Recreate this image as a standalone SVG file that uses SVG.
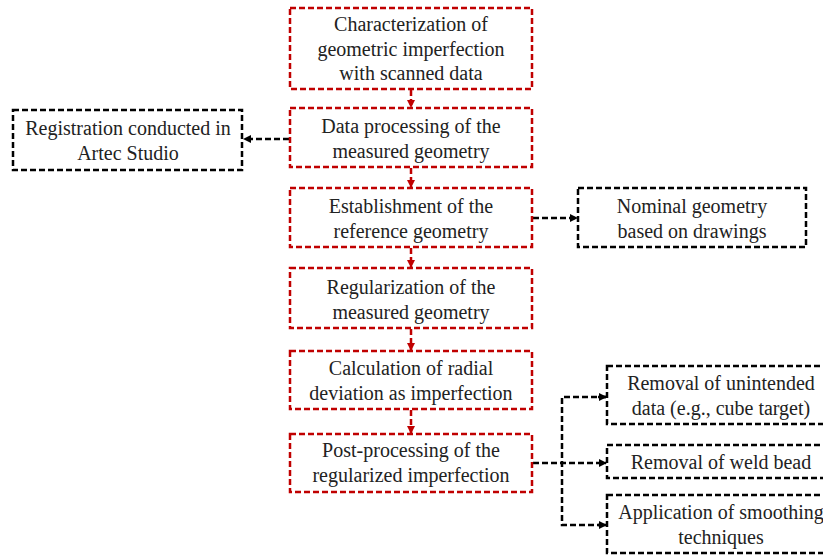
<svg xmlns="http://www.w3.org/2000/svg" width="823" height="556" viewBox="0 0 823 556">
<defs>
<marker id="ar" markerWidth="8" markerHeight="8" refX="7" refY="4" orient="auto" markerUnits="userSpaceOnUse"><path d="M0,0 L8,4 L0,8 z" fill="#C00000"/></marker>
<marker id="ab" markerWidth="8" markerHeight="8" refX="7" refY="4" orient="auto" markerUnits="userSpaceOnUse"><path d="M0,0 L8,4 L0,8 z" fill="#000"/></marker>
</defs>
<style>
.r{fill:#fff;stroke:#C00000;stroke-width:2.5;stroke-dasharray:6,3}
.b{fill:#fff;stroke:#000;stroke-width:2.5;stroke-dasharray:6,3}
.t{font-family:'Liberation Serif','DejaVu Serif',serif;font-size:20px;fill:#222;text-anchor:middle}
.cr{fill:none;stroke:#C00000;stroke-width:2.5;stroke-dasharray:6,3}
.cb{fill:none;stroke:#000;stroke-width:2.5;stroke-dasharray:6,3}
</style>
<rect width="823" height="556" fill="#fff"/>
<g id="connectors">
<line class="cr" x1="411" y1="90" x2="411" y2="107" marker-end="url(#ar)"/>
<line class="cr" x1="411" y1="168" x2="411" y2="187" marker-end="url(#ar)"/>
<line class="cr" x1="411" y1="248" x2="411" y2="267" marker-end="url(#ar)"/>
<line class="cr" x1="411" y1="329" x2="411" y2="350" marker-end="url(#ar)"/>
<line class="cr" x1="411" y1="410" x2="411" y2="433" marker-end="url(#ar)"/>
<line class="cb" x1="289" y1="139" x2="244" y2="139" marker-end="url(#ab)"/>
<line class="cb" x1="533" y1="218" x2="577" y2="218" marker-end="url(#ab)"/>
<line class="cb" x1="533" y1="463" x2="606" y2="463" marker-end="url(#ab)"/>
<polyline class="cb" points="606,397 562,397 562,525 606,525"/>
<line x1="598" y1="397" x2="606" y2="397" stroke="#000" stroke-width="2.5" marker-end="url(#ab)"/>
<line x1="598" y1="525" x2="606" y2="525" stroke="#000" stroke-width="2.5" marker-end="url(#ab)"/>
</g>
<g id="n1"><rect class="r" x="290" y="8" width="242" height="81"/>
<text class="t" x="411" y="31">Characterization of</text>
<text class="t" x="411" y="56">geometric imperfection</text>
<text class="t" x="411" y="80">with scanned data</text></g>
<g id="n2"><rect class="r" x="290" y="108" width="242" height="59"/>
<text class="t" x="411" y="133">Data processing of the</text>
<text class="t" x="411" y="158">measured geometry</text></g>
<g id="n3"><rect class="r" x="290" y="188" width="242" height="59"/>
<text class="t" x="411" y="213">Establishment of the</text>
<text class="t" x="411" y="238">reference geometry</text></g>
<g id="n4"><rect class="r" x="290" y="268" width="242" height="60"/>
<text class="t" x="411" y="294">Regularization of the</text>
<text class="t" x="411" y="319">measured geometry</text></g>
<g id="n5"><rect class="r" x="290" y="351" width="242" height="58"/>
<text class="t" x="411" y="375">Calculation of radial</text>
<text class="t" x="411" y="400">deviation as imperfection</text></g>
<g id="n6"><rect class="r" x="290" y="434" width="242" height="58"/>
<text class="t" x="411" y="457">Post-processing of the</text>
<text class="t" x="411" y="482">regularized imperfection</text></g>
<g id="n7"><rect class="b" x="13" y="110" width="229" height="60"/>
<text class="t" x="128" y="135">Registration conducted in</text>
<text class="t" x="128" y="160">Artec Studio</text></g>
<g id="n8"><rect class="b" x="578" y="188" width="228" height="59"/>
<text class="t" x="692" y="213">Nominal geometry</text>
<text class="t" x="692" y="238">based on drawings</text></g>
<g id="n9"><rect class="b" x="607" y="366" width="228" height="58"/>
<text class="t" x="721" y="390">Removal of unintended</text>
<text class="t" x="721" y="415">data (e.g., cube target)</text></g>
<g id="n10"><rect class="b" x="607" y="445" width="228" height="33"/>
<text class="t" x="721" y="469">Removal of weld bead</text></g>
<g id="n11"><rect class="b" x="607" y="495" width="228" height="58"/>
<text class="t" x="721" y="519">Application of smoothing</text>
<text class="t" x="721" y="544">techniques</text></g>
</svg>
